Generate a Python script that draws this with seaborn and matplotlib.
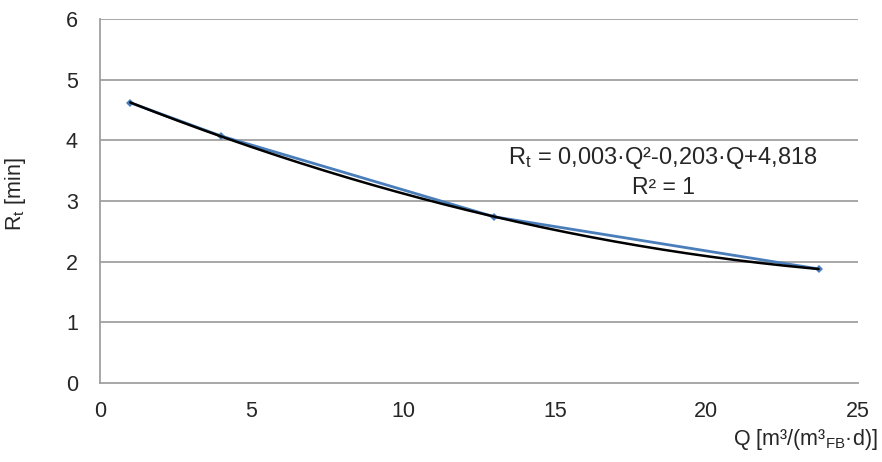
import numpy as np
import pandas as pd
import matplotlib
matplotlib.use("Agg")
import matplotlib.pyplot as plt
import seaborn as sns

# === data ===
q_values = [1.0, 4.0, 13.0, 23.7]
rt_values = [4.62, 4.07, 2.74, 1.88]
x_ticks = [0, 5, 10, 15, 20, 25]
y_ticks = [0, 1, 2, 3, 4, 5, 6]

df = pd.DataFrame({"Q": q_values, "Rt": rt_values})

# polynomial trendline (2nd order), as in the spreadsheet
coef = np.polyfit(df["Q"], df["Rt"], 2)
q_fit = np.linspace(min(q_values), max(q_values), 200)
trend = pd.DataFrame({"Q": q_fit, "Rt": np.polyval(coef, q_fit)})

sns.set_style("white")
plt.rcParams["font.family"] = ["Liberation Sans", "DejaVu Sans"]
plt.rcParams["mathtext.fontset"] = "custom"
plt.rcParams["mathtext.rm"] = "Liberation Sans"
plt.rcParams["mathtext.it"] = "Liberation Sans"

fs = 15.5
fig = plt.figure(figsize=(8.82, 4.62), dpi=100)
ax = fig.add_axes([100 / 882, 1 - 383 / 462, 758 / 882, 364 / 462])

grid_c = "#a0a0a0"
for y in y_ticks[1:]:
    ax.axhline(y, color=grid_c, lw=1.3, zorder=0)

sns.lineplot(data=df, x="Q", y="Rt", ax=ax, color="#4a7ebb", lw=2,
             marker="D", markersize=4, markeredgewidth=0, zorder=2)
sns.lineplot(data=trend, x="Q", y="Rt", ax=ax, color="black", lw=1.8, zorder=3)

ax.set_xlim(0, 25)
ax.set_ylim(0, 6)
ax.set_xticks(x_ticks)
ax.set_yticks(y_ticks)
ax.tick_params(axis="x", direction="in", length=4, width=1, color=grid_c,
               labelsize=fs, pad=13)
ax.tick_params(axis="y", length=0, labelsize=fs, pad=16)

for side in ["top", "right"]:
    ax.spines[side].set_visible(False)
for side in ["left", "bottom"]:
    ax.spines[side].set_color(grid_c)
    ax.spines[side].set_linewidth(1.3)

ax.set_xlabel("")
ax.set_ylabel("R$_\\mathrm{t}$ [min]", fontsize=fs, labelpad=20)
ax.yaxis.set_label_coords(-0.095, 0.52)
fig.text(878 / 882, 1 - 440 / 462, "Q [m³/(m³$_\\mathrm{FB}$·d)]",
         ha="right", va="center", fontsize=fs)

fig.text(663 / 882, 1 - 158 / 462, "R$_\\mathrm{t}$ = 0,003·Q²-0,203·Q+4,818",
         ha="center", va="center", fontsize=17)
fig.text(663 / 882, 1 - 188 / 462, "R² = 1", ha="center", va="center", fontsize=16.5)

fig.savefig("out.png", dpi=100)
